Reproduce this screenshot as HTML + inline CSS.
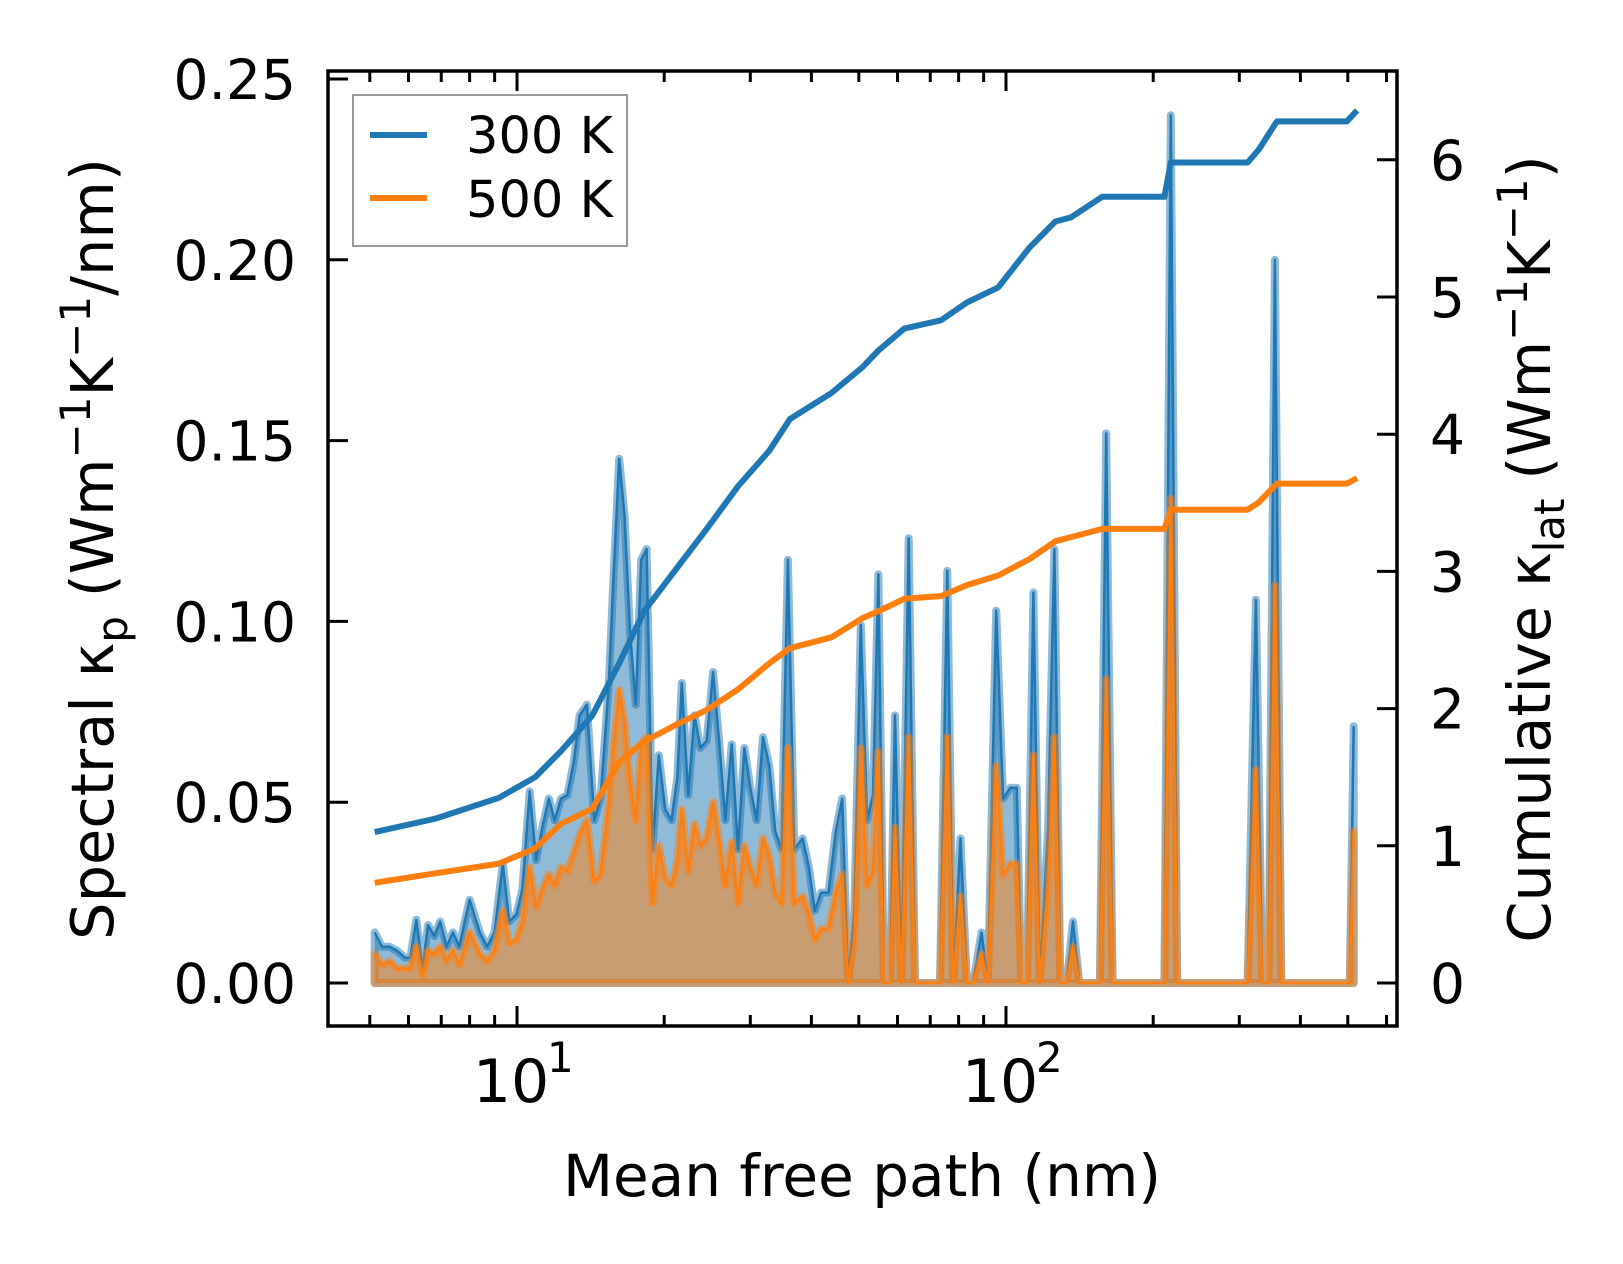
<!DOCTYPE html>
<html><head><meta charset="utf-8"><style>
html,body{margin:0;padding:0;background:#fff}
svg{display:block}
text{font-family:"DejaVu Sans","Liberation Sans",sans-serif;fill:#000}
</style></head><body>
<svg id="chart" width="1623" height="1264" viewBox="0 0 1623 1264" xmlns="http://www.w3.org/2000/svg">
<g id="plot"></g>
<g id="axes"></g>
<g>
<rect x="353" y="95" width="274" height="151" fill="#fff" fill-opacity="0.8" stroke="#999" stroke-width="2"/>
<line x1="370" y1="135" x2="427" y2="135" stroke="#1f77b4" stroke-width="6"/>
<text x="466" y="153" font-size="51">300 K</text>
<line x1="370" y1="198" x2="427" y2="198" stroke="#ff7f0e" stroke-width="6"/>
<text x="466" y="217" font-size="51">500 K</text>
</g>
<text x="862" y="1196" font-size="58" text-anchor="middle">Mean free path (nm)</text>
<text transform="translate(113,549) rotate(-90)" font-size="59" text-anchor="middle">Spectral κ<tspan font-size="42" dy="14">p</tspan><tspan dy="-14"> (Wm</tspan><tspan font-size="42" dy="-23">−1</tspan><tspan dy="23">K</tspan><tspan font-size="42" dy="-23">−1</tspan><tspan dy="23">/nm)</tspan></text>
<text transform="translate(1550,549) rotate(-90)" font-size="59" text-anchor="middle">Cumulative κ<tspan font-size="42" dy="14">lat</tspan><tspan dy="-14"> (Wm</tspan><tspan font-size="42" dy="-23">−1</tspan><tspan dy="23">K</tspan><tspan font-size="42" dy="-23">−1</tspan><tspan dy="23">)</tspan></text>
</svg>
<script>
// log10 of mean free path (nm) for the spectral series
const logMfp = [0.709,0.724,0.739,0.754,0.771,0.782,0.794,0.807,0.818,0.831,0.843,0.856,0.869,0.882,0.903,0.924,0.939,0.954,0.971,0.984,0.999,1.011,1.026,1.039,1.052,1.065,1.077,1.090,1.103,1.116,1.128,1.143,1.158,1.171,1.188,1.197,1.209,1.220,1.231,1.243,1.254,1.265,1.277,1.290,1.303,1.316,1.328,1.337,1.350,1.363,1.375,1.388,1.401,1.414,1.426,1.439,1.452,1.465,1.477,1.490,1.503,1.516,1.528,1.541,1.554,1.567,1.584,1.597,1.609,1.622,1.637,1.652,1.665,1.677,1.690,1.703,1.716,1.728,1.739,1.750,1.763,1.773,1.786,1.801,1.814,1.865,1.880,1.892,1.907,1.920,1.933,1.950,1.963,1.980,1.994,2.009,2.022,2.031,2.043,2.056,2.069,2.086,2.099,2.111,2.124,2.137,2.150,2.192,2.205,2.218,2.324,2.337,2.350,2.494,2.511,2.524,2.537,2.550,2.563,2.703,2.711];
const spec300 = [.014,.010,.010,.009,.007,.007,.0175,.004,.016,.013,.017,.010,.014,.010,.023,.014,.010,.014,.033,.017,.019,.026,.053,.034,.043,.051,.045,.051,.052,.061,.074,.077,.045,.051,.083,.111,.145,.129,.097,.077,.117,.120,.037,.063,.048,.045,.057,.083,.052,.074,.065,.067,.086,.066,.045,.066,.037,.065,.054,.045,.068,.060,.042,.037,.117,.037,.040,.032,.020,.025,.025,.042,.051,0,.020,.099,.045,.052,.113,0,0,.074,0,.123,0,0,.114,0,.040,0,0,.014,0,.103,.051,.054,.054,0,0,.108,0,.043,.120,0,0,.017,0,0,.152,0,0,.240,0,0,.106,0,0,.200,0,0,.071];
const spec500 = [.008,.005,.006,.004,.004,.004,.010,.002,.009,.008,.010,.006,.009,.005,.014,.008,.006,.009,.020,.011,.012,.017,.032,.021,.026,.030,.027,.032,.031,.036,.041,.045,.028,.030,.050,.065,.081,.072,.056,.045,.066,.068,.022,.038,.029,.027,.034,.048,.031,.044,.038,.040,.050,.039,.027,.039,.022,.038,.032,.027,.040,.035,.025,.022,.065,.022,.024,.019,.012,.015,.015,.025,.030,0,.012,.065,.027,.031,.064,0,0,.043,0,.068,0,0,.068,0,.024,0,0,.008,0,.060,.030,.033,.033,0,0,.063,0,.026,.068,0,0,.010,0,0,.084,0,0,.134,0,0,.059,0,0,.110,0,0,.042];
// cumulative series
const cumLogMfp = [0.709,0.835,0.963,1.037,1.090,1.154,1.209,1.260,1.324,1.388,1.452,1.516,1.558,1.643,1.707,1.739,1.792,1.867,1.920,1.984,2.048,2.101,2.133,2.197,2.324,2.337,2.494,2.516,2.554,2.697,2.718];
const cum300 = [1.10,1.20,1.35,1.50,1.69,1.95,2.33,2.71,3.01,3.31,3.62,3.88,4.11,4.30,4.49,4.61,4.77,4.83,4.96,5.07,5.36,5.55,5.58,5.73,5.73,5.98,5.98,6.07,6.28,6.28,6.36];
const cum500 = [0.73,0.80,0.87,0.98,1.16,1.27,1.61,1.76,1.88,1.99,2.14,2.33,2.44,2.52,2.66,2.71,2.80,2.82,2.90,2.97,3.09,3.22,3.25,3.31,3.31,3.45,3.45,3.50,3.64,3.64,3.68];
const leftTicks = [0,0.05,0.10,0.15,0.20,0.25];
const leftTickLabels = ["0.00","0.05","0.10","0.15","0.20","0.25"];
const rightTicks = [0,1,2,3,4,5,6];
const xMajor = [1,2];

const L=328,R=1397,T=71,B=1026;
const X = lg => 517 + (lg-1)*489;
const YL = v => 983 - v*904/0.25;
const YR = v => 983 - v*137.2;
const NS="http://www.w3.org/2000/svg";
const plot=document.getElementById('plot'), axes=document.getElementById('axes');
function mk(tag, attrs, parent){const e=document.createElementNS(NS,tag);for(const k in attrs)e.setAttribute(k,attrs[k]);parent.appendChild(e);return e;}

function spectral(vals, color, nm){
  const n=Math.min(logMfp.length, vals.length);
  let pts=[];
  for(let i=0;i<n;i++) pts.push(X(logMfp[i]).toFixed(1)+','+YL(vals[i]).toFixed(1));
  const poly = pts.join(' ')+' '+X(logMfp[n-1]).toFixed(1)+','+YL(0)+' '+X(logMfp[0]).toFixed(1)+','+YL(0);
  const f=mk('polygon',{points:poly,fill:color,'fill-opacity':0.5,stroke:color,'stroke-opacity':0.5,'stroke-width':8,'stroke-linejoin':'round'},plot);
  
  
  const l=mk('polyline',{points:pts.join(' '),fill:'none',stroke:color,'stroke-width':2.5,'stroke-linejoin':'round'},plot);
  
  
}
spectral(spec300,'#1f77b4','spectral-300k');
spectral(spec500,'#ff7f0e','spectral-500k');

function cum(vals,color,nm){
  const n=Math.min(cumLogMfp.length, vals.length);
  let pts=[];
  for(let i=0;i<n;i++) pts.push(X(cumLogMfp[i]).toFixed(1)+','+YR(vals[i]).toFixed(1));
  const l=mk('polyline',{points:pts.join(' '),fill:'none',stroke:color,'stroke-width':6,'stroke-linejoin':'round'},plot);
  
  
}
cum(cum300,'#1f77b4','cumulative-300k');
cum(cum500,'#ff7f0e','cumulative-500k');

const sp=mk('rect',{x:L,y:T,width:R-L,height:B-T,fill:'none',stroke:'#000','stroke-width':3.5},axes);



leftTicks.forEach((v,i)=>{
  const y=YL(v);
  const t=mk('line',{x1:L,y1:y,x2:L+20,y2:y,stroke:'#000','stroke-width':3},axes);
  
  
  const tx=mk('text',{x:296,y:y+20,'font-size':55,'text-anchor':'end'},axes);
  tx.textContent=leftTickLabels[i];
  
  
});
rightTicks.forEach(v=>{
  const y=YR(v);
  const t=mk('line',{x1:R-20,y1:y,x2:R,y2:y,stroke:'#000','stroke-width':3},axes);
  
  
  const tx=mk('text',{x:1430,y:y+20,'font-size':55},axes);
  tx.textContent=String(v);
  
  
});
for(let d=0; d<=2; d++){
  for(let m=1;m<=9;m++){
    const lg=d+Math.log10(m), x=X(lg);
    if(x<L+2||x>R-2) continue;
    const len = m===1?20:11;
    const b=mk('line',{x1:x,y1:B,x2:x,y2:B-len,stroke:'#000','stroke-width':3},axes);
    
    
    const t=mk('line',{x1:x,y1:T,x2:x,y2:T+len,stroke:'#000','stroke-width':3},axes);
    
    
  }
}
xMajor.forEach(e=>{
  const x=X(e);
  const tx=mk('text',{x:x-6,y:1102,'font-size':60,'text-anchor':'middle'},axes);
  tx.textContent='10';
  
  
  const sup=mk('text',{x:x+30,y:1072,'font-size':42},axes);
  sup.textContent=String(e);
  
  
});
</script>
</body></html>
